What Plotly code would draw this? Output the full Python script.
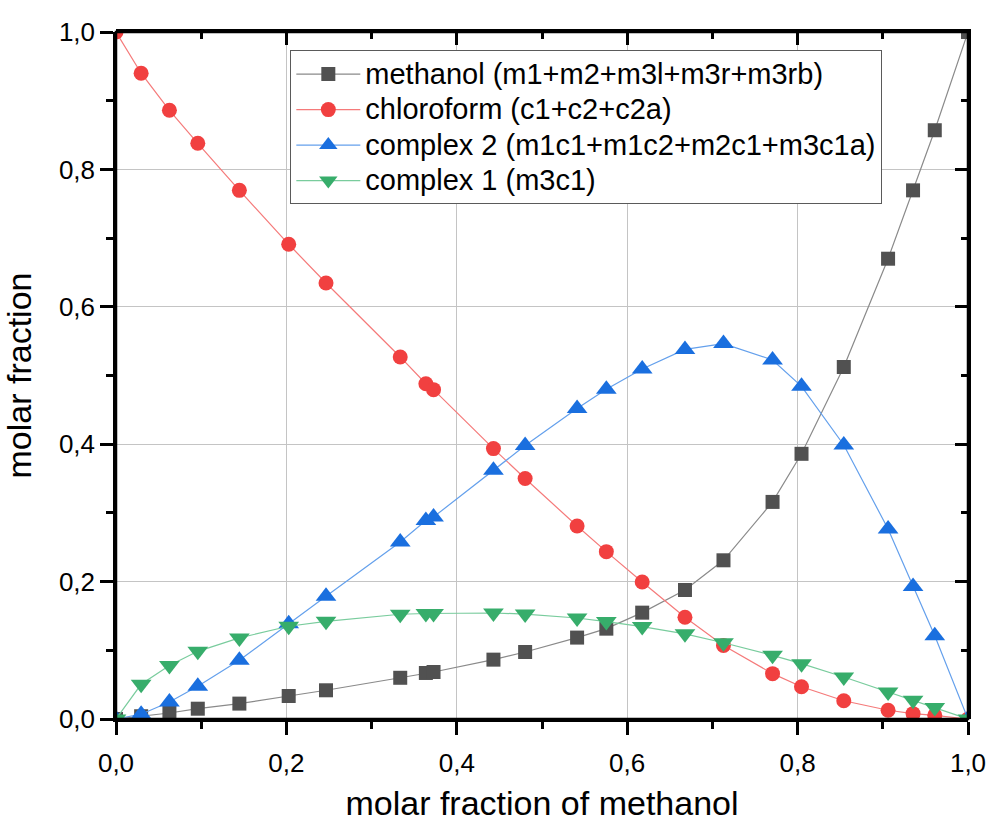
import plotly.graph_objects as go

# Molar fraction of methanol in the mixture (shared by all series)
x_methanol = [0.0, 0.0295, 0.0627, 0.096, 0.1448, 0.2027, 0.2465, 0.3336, 0.3637,
              0.3727, 0.443, 0.4802, 0.5412, 0.5755, 0.6176, 0.6678, 0.713, 0.7706,
              0.8046, 0.8542, 0.9062, 0.9355, 0.961, 1.0]

# Species fractions
methanol = [0.0, 0.004, 0.0087, 0.015, 0.0224, 0.0335, 0.0418, 0.060, 0.067,
            0.0684, 0.0864, 0.0975, 0.1185, 0.1315, 0.1548, 0.1878, 0.231, 0.316,
            0.386, 0.5124, 0.670, 0.7695, 0.857, 1.0]
chloroform = [1.0, 0.940, 0.886, 0.838, 0.7695, 0.691, 0.6346, 0.527, 0.488,
              0.4794, 0.3936, 0.350, 0.281, 0.2436, 0.1994, 0.148, 0.107, 0.066,
              0.047, 0.0265, 0.0127, 0.0078, 0.0054, 0.0]
complex2 = [0.0, 0.007, 0.0248, 0.0476, 0.0854, 0.1388, 0.1786, 0.2577, 0.289,
            0.294, 0.362, 0.398, 0.452, 0.480, 0.5095, 0.538, 0.5464, 0.5226,
            0.4843, 0.3989, 0.2766, 0.193, 0.1213, 0.0]
complex1 = [0.0, 0.0505, 0.078, 0.0985, 0.118, 0.135, 0.1422, 0.1525, 0.1536,
            0.1536, 0.1543, 0.1528, 0.147, 0.1418, 0.1345, 0.124, 0.111, 0.0927,
            0.0806, 0.0611, 0.0393, 0.0272, 0.0166, 0.0]

series_names = ["methanol (m1+m2+m3l+m3r+m3rb)",
                "chloroform (c1+c2+c2a)",
                "complex 2 (m1c1+m1c2+m2c1+m3c1a)",
                "complex 1 (m3c1)"]

tick_vals = [0.0, 0.2, 0.4, 0.6, 0.8, 1.0]

FONT = "Liberation Sans, Arial, sans-serif"
LEGEND_TEXT_PX = 29

styles = [
    dict(color="#515151", line="#8a8a8a", symbol="square", size=14),
    dict(color="#F14040", line="#f57a7a", symbol="circle", size=15),
    dict(color="#1A6FDF", line="#64a0ec", symbol="triangle-up", size=18),
    dict(color="#37AD6B", line="#79cc9d", symbol="triangle-down", size=18),
]

fig = go.Figure()
for name, ys, st in zip(series_names, [methanol, chloroform, complex2, complex1], styles):
    fig.add_trace(go.Scatter(
        x=x_methanol, y=ys,
        name=f'<span style="font-size:{LEGEND_TEXT_PX}px">{name}</span>',
        mode="lines+markers",
        line=dict(color=st["line"], width=1.2),
        marker=dict(color=st["color"], symbol=st["symbol"], size=st["size"],
                    line=dict(width=0)),
    ))

# transparent copies on extra subplots sharing the same domain; they carry the
# long outward ticks (left/bottom) and the inward ticks (top/right)
for xa, ya in (("x2", "y2"), ("x3", "y3")):
    fig.add_trace(go.Scatter(
        x=x_methanol, y=methanol, xaxis=xa, yaxis=ya, mode="lines",
        line=dict(width=0, color="rgba(0,0,0,0)"), showlegend=False, hoverinfo="skip",
    ))

axis_common = dict(
    range=[0, 1], tickformat=".1f",
    showline=True, linecolor="black", linewidth=2.5,
    ticklen=13, tickwidth=2.5, tickcolor="black",
    zeroline=False, automargin=False, layer="above traces",
    domain=[0, 1], fixedrange=True,
)


def minor(direction, step=0.1, length=7):
    return dict(dtick=step, tick0=0, ticks=direction, ticklen=length, tickwidth=2.5,
                tickcolor="black", showgrid=False)


fig.update_layout(
    width=990, height=822,
    margin=dict(l=115.5, r=21.7, t=31.7, b=103.3, autoexpand=False),
    paper_bgcolor="white", plot_bgcolor="rgba(0,0,0,0)",
    separators=",.",
    font=dict(family=FONT, color="black"),
    xaxis=dict(
        **axis_common, tickvals=tick_vals, ticks="outside", side="bottom", anchor="y",
        showgrid=True, gridcolor="#c4c4c4", gridwidth=1,
        tickfont=dict(size=26, family=FONT), ticklabelstandoff=6,
        minor=minor("outside"),
        title=dict(text="molar fraction of methanol", font=dict(size=34, family=FONT),
                   standoff=33),
    ),
    yaxis=dict(
        **axis_common, tickvals=tick_vals, ticks="outside", side="left", anchor="x",
        showgrid=True, gridcolor="#c4c4c4", gridwidth=1,
        tickfont=dict(size=26, family=FONT), ticksuffix=" ",
        minor=minor("outside"),
        title=dict(text="molar fraction", font=dict(size=34, family=FONT),
                   standoff=19),
    ),
    # top / right edges with inward ticks
    xaxis2=dict(
        **axis_common, tickvals=tick_vals, ticks="inside", side="top", anchor="y2",
        showgrid=False, showticklabels=False, minor=minor("inside"),
    ),
    yaxis2=dict(
        **axis_common, tickvals=tick_vals, ticks="inside", side="right", anchor="x2",
        showgrid=False, showticklabels=False, minor=minor("inside"),
    ),
    # long outward ticks at the labelled positions
    xaxis3=dict(
        **axis_common, tickvals=[], ticks="", side="bottom", anchor="y3",
        showgrid=False, showticklabels=False, minor=minor("outside", 0.2, 13),
    ),
    yaxis3=dict(
        **axis_common, tickvals=[], ticks="", side="left", anchor="x3",
        showgrid=False, showticklabels=False, minor=minor("outside", 0.2, 13),
    ),
    # plot frame
    shapes=[dict(type="rect", xref="x domain", yref="y domain", x0=0, x1=1, y0=0, y1=1,
                 line=dict(color="black", width=2.5), fillcolor="rgba(0,0,0,0)",
                 layer="above")],
    legend=dict(
        x=0.2046, y=0.9733, xanchor="left", yanchor="top",
        bgcolor="white", bordercolor="#5a5a5a", borderwidth=1,
        font=dict(size=25, family=FONT), itemwidth=64,
    ),
    showlegend=True,
)

fig.write_html("out.html")
